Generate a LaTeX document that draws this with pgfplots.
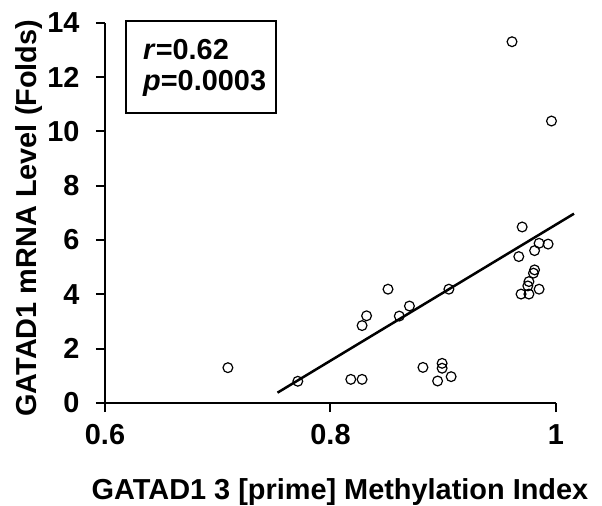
\documentclass[border=0pt]{standalone}
\usepackage{pgfplots}
\pgfplotsset{compat=1.18}
\usepackage{fontspec}
\setmainfont{Liberation Sans}
\begin{document}
\begin{tikzpicture}
\useasboundingbox (-105bp,-103bp) rectangle (497bp,403bp);
\begin{axis}[
  at={(0,0)}, anchor=south west,
  scale only axis, width=451bp, height=380.3bp,
  xmin=0.6, xmax=1, ymin=0, ymax=14,
  axis x line=bottom, axis y line=left,
  axis line style={-, line width=2bp},
  xtick={0.6,0.8,1}, ytick={0,2,...,14},
  xticklabels={0.6,0.8,1},
  tick align=outside, major tick length=9bp,
  every tick/.style={line width=2bp, black},
  /pgf/number format/assume math mode=true,
  tick label style={font=\fontsize{29}{29}\selectfont\bfseries},
  yticklabel style={xshift=-13bp},
  xticklabel style={yshift=-9bp},
  clip=false,
]
\addplot[only marks, mark=o, mark size=4.9bp, mark options={line width=1.2bp, black}] coordinates {
(0.709,1.30) (0.771,0.80) (0.818,0.87) (0.828,0.87) (0.828,2.85)
(0.832,3.21) (0.851,4.19) (0.861,3.20) (0.870,3.57) (0.882,1.31)
(0.899,1.46) (0.899,1.28) (0.895,0.81) (0.907,0.97) (0.905,4.19)
(0.961,13.3) (0.996,10.38) (0.970,6.48) (0.967,5.39) (0.981,5.61)
(0.985,5.88) (0.993,5.85) (0.981,4.90) (0.980,4.78) (0.976,4.47)
(0.975,4.31) (0.985,4.19) (0.969,4.01) (0.976,4.01)
};
\addplot[black, line width=2.5bp] coordinates {(0.753,0.38) (1.016,6.97)};
\draw[line width=2bp] (axis description cs:0.0459,1.0053) rectangle (axis description cs:0.379,0.7633);
\node[anchor=base west, inner sep=0pt, font=\fontsize{29}{29}\selectfont\bfseries] at (axis description cs:0.0843,0.9038) {\textit{r}=0.62};
\node[anchor=base west, inner sep=0pt, font=\fontsize{29}{29}\selectfont\bfseries] at (axis description cs:0.0843,0.823) {\textit{p}=0.0003};
\node[anchor=base, inner sep=0pt, font=\fontsize{29}{29}\selectfont\bfseries] at (axis description cs:0.521,-0.255) {GATAD1 3 [prime] Methylation Index};
\node[anchor=base, rotate=90, inner sep=0pt, font=\fontsize{29}{29}\selectfont\bfseries] at (axis description cs:-0.151,0.486) {GATAD1 mRNA Level (Folds)};
\end{axis}
\end{tikzpicture}
\end{document}
